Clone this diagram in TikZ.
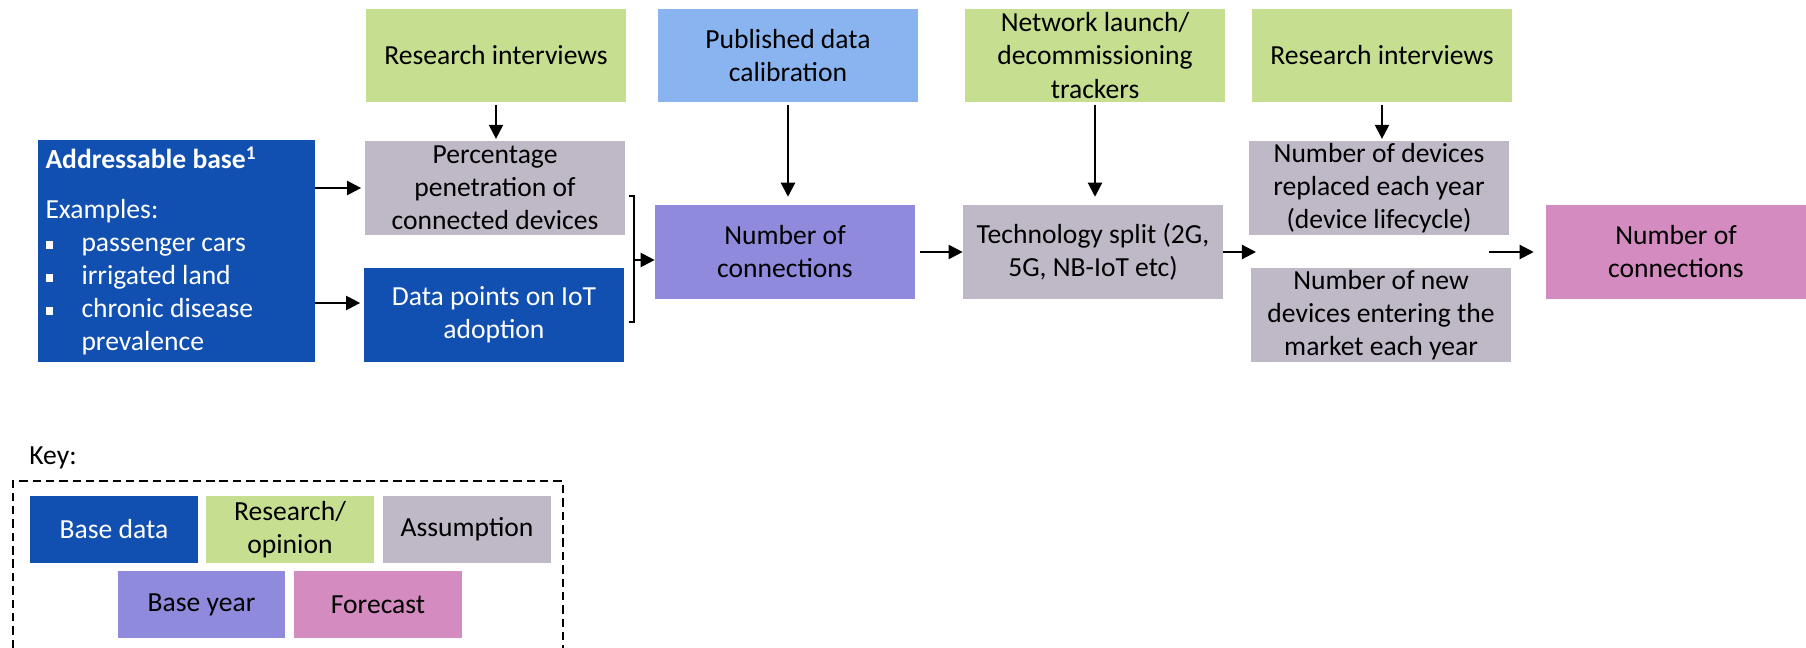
\documentclass[tikz,border=0pt]{standalone}
\usepackage{fontspec}
\setmainfont{Carlito}
\usetikzlibrary{arrows.meta,calc}

\definecolor{basedata}{HTML}{1150B0}
\definecolor{research}{HTML}{C5DE90}
\definecolor{assume}{HTML}{BFB8C6}
\definecolor{published}{HTML}{8AB4F0}
\definecolor{baseyear}{HTML}{8F8ADC}
\definecolor{forecast}{HTML}{D48BBF}

\newcommand{\sqitem}{\makebox[0.72cm][l]{\rule[0.12em]{4.5pt}{4.5pt}}}

\begin{document}
\begin{tikzpicture}[x=0.02cm,y=-0.02cm,
  font=\fontsize{15.7}{18.8}\selectfont,
  box/.style={minimum width=5.2cm,minimum height=1.88cm,inner sep=1pt,align=center},
  keybox/.style={minimum width=3.36cm,minimum height=1.34cm,inner sep=1pt,align=center},
  flow/.style={-{Triangle[length=8pt,width=8pt]},line width=1.2pt}]
\useasboundingbox (0,0) rectangle (1806,648);
% top row: sources
\node[box,fill=research] (ri1) at (496,55.5) {Research interviews};
\node[box,fill=published] (pub) at (788,55.5) {Published data\\calibration};
\node[box,fill=research] (net) at (1095,55.5) {Network launch/\\decommissioning\\trackers};
\node[box,fill=research] (ri2) at (1382,55.5) {Research interviews};
% base data
\node[fill=basedata,text=white,minimum width=5.54cm,minimum height=4.44cm,
  text width=5.24cm,align=flush left,inner sep=0pt] (base) at (176.5,251)
  {{\bfseries Addressable base\textsuperscript{1}}\\[10pt]
   Examples:\\
   \sqitem passenger cars\\
   \sqitem irrigated land\\
   \sqitem chronic disease\\
   \hspace*{0.72cm}prevalence};
\node[box,fill=assume] (pen) at (495,188) {Percentage\\penetration of\\connected devices};
\node[box,fill=basedata,text=white] (dpts) at (494,315) {Data points on IoT\\adoption};
\node[box,fill=baseyear] (conn) at (785,252) {Number of\\connections};
\node[box,fill=assume] (tech) at (1093,252) {Technology split (2G,\\5G, NB-IoT etc)};
\node[box,fill=assume] (repl) at (1379,188) {Number of devices\\replaced each year\\(device lifecycle)};
\node[box,fill=assume] (newdev) at (1381,315) {Number of new\\devices entering the\\market each year};
\node[box,fill=forecast] (fcst) at (1676,252) {Number of\\connections};
% connectors
\coordinate (dptsin) at ($(dpts.west)+(0,-12)$);
\coordinate (brk) at (634,260);
\coordinate (split) at (1256,252);
\coordinate (merge) at (1489,252);
\draw[flow,shorten <=1pt,shorten >=1pt] (ri1.south) -- (ri1.south |- pen.north);
\draw[flow,shorten <=1pt,shorten >=4.5pt] (pub.south) -- (pub.south |- conn.north);
\draw[flow,shorten <=1pt,shorten >=4.5pt] (net.south) -- (net.south |- tech.north);
\draw[flow,shorten <=1pt,shorten >=1pt] (ri2.south) -- (ri2.south |- repl.north);
\draw[flow,shorten >=2pt] (base.east |- pen.west) -- (pen.west);
\draw[flow,shorten >=2pt] (base.east |- dptsin) -- (dptsin);
\draw[line width=1.2pt] (629,196) -| (634,322) -- (629,322);
\draw[flow] (brk) -- (conn.west |- brk);
\draw[flow,shorten <=2.8pt] (conn) -- (tech);
\draw[flow] (tech) -- (split);
\draw[flow,shorten >=6.8pt] (merge) -- (fcst);
% key
\node[anchor=base west,inner sep=0pt] (keylbl) at (29,465) {Key:};
\draw[line width=1.1pt,dash pattern=on 4.8pt off 2.8pt] (12.6,648) -- (12.6,481) -- (562.6,481) -- (562.6,648);
\node[keybox,fill=basedata,text=white] (kbase) at (114,529.5) {Base data};
\node[keybox,fill=research] (kres) at (290,529.5) {Research/\\opinion};
\node[keybox,fill=assume] (kass) at (467,529.5) {Assumption};
\node[keybox,fill=baseyear] (kyear) at (201.5,604.5) {Base year};
\node[keybox,fill=forecast] (kfc) at (378,604.5) {Forecast};
\end{tikzpicture}
\end{document}
